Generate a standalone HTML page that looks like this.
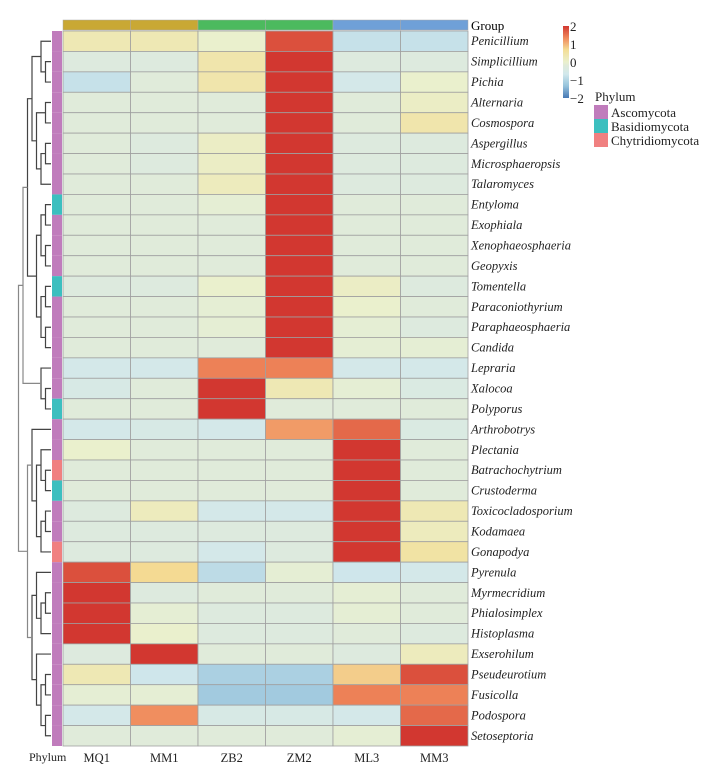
<!DOCTYPE html>
<html><head><meta charset="utf-8"><style>
body{margin:0;background:#fff;}
svg text{font-family:"Liberation Serif",serif;}
</style></head><body>
<svg id="c" width="702" height="779" xmlns="http://www.w3.org/2000/svg"></svg>
<script>
const genera=["Penicillium","Simplicillium","Pichia","Alternaria","Cosmospora","Aspergillus","Microsphaeropsis","Talaromyces","Entyloma","Exophiala","Xenophaeosphaeria","Geopyxis","Tomentella","Paraconiothyrium","Paraphaeosphaeria","Candida","Lepraria","Xalocoa","Polyporus","Arthrobotrys","Plectania","Batrachochytrium","Crustoderma","Toxicocladosporium","Kodamaea","Gonapodya","Pyrenula","Myrmecridium","Phialosimplex","Histoplasma","Exserohilum","Pseudeurotium","Fusicolla","Podospora","Setoseptoria"];
const samples=["MQ1","MM1","ZB2","ZM2","ML3","MM3"];
const groups=["G1","G1","G2","G2","G3","G3"];
const phylum=["A","A","A","A","A","A","A","A","B","A","A","A","B","A","A","A","A","A","B","A","A","C","B","A","A","C","A","A","A","A","A","A","A","A","A"];
const values=[
[0.3,0.3,0,1.8,-0.8,-0.8],
[-0.3,-0.3,0.4,2,-0.3,-0.3],
[-0.8,-0.2,0.4,2,-0.6,0],
[-0.2,-0.2,-0.2,2.2,-0.2,0.1],
[-0.2,-0.2,-0.2,2.2,-0.2,0.4],
[-0.2,-0.3,0.1,2.2,-0.3,-0.3],
[-0.2,-0.3,0.1,2.2,-0.3,-0.3],
[-0.2,-0.2,0.2,2.2,-0.3,-0.3],
[-0.2,-0.2,-0.1,2.2,-0.2,-0.2],
[-0.2,-0.2,-0.2,2.2,-0.2,-0.2],
[-0.2,-0.2,-0.2,2.2,-0.2,-0.2],
[-0.2,-0.2,-0.2,2.2,-0.2,-0.2],
[-0.3,-0.3,0,2.2,0.1,-0.3],
[-0.2,-0.2,-0.1,2.2,0,-0.2],
[-0.2,-0.2,-0.1,2.2,-0.1,-0.3],
[-0.2,-0.2,-0.2,2.2,-0.1,-0.1],
[-0.6,-0.6,1.4,1.4,-0.6,-0.6],
[-0.5,-0.2,2.2,0.3,-0.1,-0.4],
[-0.2,-0.2,2.2,-0.2,-0.2,-0.2],
[-0.6,-0.5,-0.6,1.2,1.6,-0.4],
[0,-0.2,-0.2,-0.2,2.2,-0.2],
[-0.2,-0.2,-0.2,-0.2,2.2,-0.2],
[-0.2,-0.2,-0.2,-0.2,2.2,-0.2],
[-0.3,0.2,-0.6,-0.6,2,0.3],
[-0.3,-0.3,-0.3,-0.3,2,0.2],
[-0.3,-0.3,-0.6,-0.3,2,0.5],
[1.8,0.7,-0.9,-0.1,-0.7,-0.6],
[2.2,-0.3,-0.2,-0.2,-0.1,-0.2],
[2.2,-0.1,-0.3,-0.3,-0.1,-0.2],
[2.2,0,-0.3,-0.3,-0.2,-0.3],
[-0.3,2.2,-0.2,-0.2,-0.3,0.2],
[0.3,-0.7,-1.1,-1.1,0.8,1.8],
[-0.1,-0.1,-1.2,-1.2,1.4,1.4],
[-0.6,1.3,-0.5,-0.5,-0.6,1.6],
[-0.2,-0.2,-0.2,-0.2,-0.1,2.2]];
const scaleTicks=[2,1,0,-1,-2];

const svg=document.getElementById('c');
const NS="http://www.w3.org/2000/svg";
function mk(t,a,p){const e=document.createElementNS(NS,t);for(const k in a)e.setAttribute(k,a[k]);(p||svg).appendChild(e);return e;}
const X0=63,X1=468,Y0=31,Y1=746;
const cw=(X1-X0)/samples.length, rh=(Y1-Y0)/genera.length;
const xS=i=>X0+i*cw, yS=i=>Y0+i*rh;
const stops=[[-2,[70,120,180]],[-1.33,[150,195,220]],[-0.67,[210,232,236]],[-0.2,[224,235,218]],[0,[234,240,205]],[0.67,[244,222,150]],[1.33,[240,138,92]],[2,[210,55,48]]];
function col(v){v=Math.max(-2,Math.min(2,v));for(let i=0;i<stops.length-1;i++){const a=stops[i][0],ca=stops[i][1],b=stops[i+1][0],cc=stops[i+1][1];if(v<=b){const t=(v-a)/(b-a);return 'rgb('+ca.map((c,j)=>Math.round(c+(cc[j]-c)*t)).join(',')+')';}}return 'rgb(210,55,48)';}
const gcol={G1:"#c9a834",G2:"#4cba5e",G3:"#6fa0d8"};
const pcol={A:"#c07cbc",B:"#3cbfbf",C:"#f08080"};
const pname={A:"Ascomycota",B:"Basidiomycota",C:"Chytridiomycota"};
samples.forEach((s,i)=>{const r=mk('rect',{x:xS(i),y:20,width:cw,height:10,fill:gcol[groups[i]],stroke:"#aaa","stroke-width":0.5});

});
const gt=mk('text',{x:471,y:30,"font-size":13});gt.textContent="Group";


values.forEach((row,r)=>row.forEach((v,c)=>{const e=mk('rect',{x:xS(c),y:yS(r),width:cw,height:rh,fill:col(v),stroke:"#a0a0a0","stroke-width":0.8});

}));
phylum.forEach((p,r)=>{const e=mk('rect',{x:52,y:yS(r),width:10,height:rh,fill:pcol[p]});

});
genera.forEach((g,r)=>{const t=mk('text',{x:471,y:yS(r)+rh/2+4,"font-size":12.5,"font-style":"italic",fill:"#222"});t.textContent=g;

});
samples.forEach((s,i)=>{const t=mk('text',{x:xS(i)+cw/2,y:762,"font-size":12.5,"text-anchor":"middle",fill:"#222"});t.textContent=s;

});
const pt=mk('text',{x:29,y:761,"font-size":12,fill:"#222"});pt.textContent="Phylum";


const treeA=[[[[0,[1,2]],[[3,4],[[5,6],7]]],[[[8,9],[10,11]],[[12,13],[14,15]]]],[16,[17,18]]];
const treeB=[[19,[[20,[21,22]],[[23,24],25]]],[[26,[[27,28],29]],[30,[[31,32],[33,34]]]]];
const tree=[treeA,treeB];
function depth(n){return Array.isArray(n)?1+Math.max(depth(n[0]),depth(n[1])):0;}
function draw(n,lvl){if(!Array.isArray(n))return {y:yS(n)+rh/2,x:51};
const a=draw(n[0],lvl+1),b=draw(n[1],lvl+1);const d=depth(n);const x=50-d*4.5;
const g=lvl<2?"#888":"#444";
const p=mk('path',{d:`M${a.x},${a.y}H${x}V${b.y}H${b.x}`,fill:"none",stroke:g,"stroke-width":1.2});


return {x:x,y:(a.y+b.y)/2};}
draw(tree,0);
const lg=mk('defs',{});const grad=mk('linearGradient',{id:"gr",x1:0,y1:1,x2:0,y2:0},lg);
stops.forEach(s=>mk('stop',{offset:((s[0]+2)/4*100)+'%','stop-color':col(s[0])},grad));
const cbar=mk('rect',{x:563,y:26,width:6,height:72,fill:"url(#gr)"});


scaleTicks.forEach(v=>{const y=26+(2-v)/4*72;const t=mk('text',{x:570,y:y+5,"font-size":13,fill:"#222"});t.textContent=v<0?'\u2212'+(-v):String(v);

});
const ph=mk('text',{x:595,y:101,"font-size":13,fill:"#222"});ph.textContent="Phylum";


["A","B","C"].forEach((k,i)=>{const r=mk('rect',{x:594,y:105+i*14,width:14,height:14,fill:pcol[k]});


const t=mk('text',{x:611,y:117+i*14,"font-size":13,fill:"#222"});t.textContent=pname[k];

});
</script>
</body></html>
